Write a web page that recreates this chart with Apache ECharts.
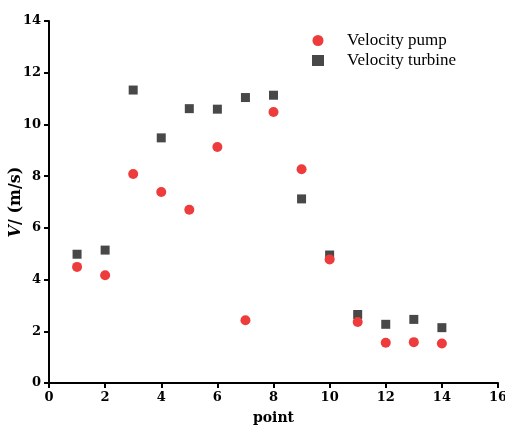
<!DOCTYPE html>
<html>
<head>
<meta charset="utf-8">
<script src="https://cdn.jsdelivr.net/npm/echarts@6/dist/echarts.min.js"></script>
<style>
  html, body { margin: 0; padding: 0; background: #fff; }
  #chart { width: 505px; height: 425px; }
</style>
</head>
<body>
<div id="chart"></div>
<script>
const points = [1, 2, 3, 4, 5, 6, 7, 8, 9, 10, 11, 12, 13, 14];
const pumpVelocity = [4.49, 4.17, 8.08, 7.39, 6.70, 9.13, 2.43, 10.48, 8.27, 4.78, 2.36, 1.56, 1.58, 1.53];
const turbineVelocity = [4.98, 5.14, 11.33, 9.48, 10.61, 10.59, 11.04, 11.13, 7.12, 4.95, 2.65, 2.27, 2.46, 2.14];
const seriesNames = ["Velocity pump", "Velocity turbine"];

const serif = "Liberation Serif, Times New Roman, serif";
const boldSerif = "DejaVu Serif, serif";
const chart = echarts.init(document.getElementById("chart"));

const axisCommon = {
  axisLine: { lineStyle: { color: "#000", width: 2 } },
  axisTick: { show: true, inside: false, length: 5, lineStyle: { color: "#000", width: 2 } },
  axisLabel: { color: "#000", fontFamily: boldSerif, fontWeight: "bold", fontSize: 13, margin: 8 },
  splitLine: { show: false },
};

chart.setOption({
  animation: false,
  backgroundColor: "#fff",
  grid: { left: 49, right: 7, top: 21, bottom: 42, containLabel: false, outerBoundsMode: "none" },
  legend: {
    orient: "vertical",
    left: 307,
    top: 27,
    itemGap: 3,
    itemWidth: 12,
    itemHeight: 11,
    textStyle: { fontFamily: serif, fontSize: 17, color: "#000", padding: [0, 0, 0, 18] },
    data: [
      { name: seriesNames[0], icon: "circle" },
      { name: seriesNames[1], icon: "rect", itemStyle: { borderWidth: 0 } },
    ],
  },
  xAxis: {
    type: "value",
    min: 0,
    max: 16,
    interval: 2,
    name: "point",
    nameLocation: "middle",
    nameGap: 28,
    nameTextStyle: { fontFamily: boldSerif, fontWeight: "bold", fontSize: 14, color: "#000" },
    ...axisCommon,
  },
  yAxis: {
    type: "value",
    min: 0,
    max: 14,
    interval: 2,
    name: "{it|V}{rg|/ (m/s)}",
    nameLocation: "middle",
    nameGap: 25,
    nameMoveOverlap: false,
    nameTextStyle: {
      rich: {
        it: { fontFamily: boldSerif, fontWeight: "bold", fontStyle: "italic", fontSize: 16, color: "#000" },
        rg: { fontFamily: boldSerif, fontWeight: "bold", fontSize: 16, color: "#000" },
      },
    },
    ...axisCommon,
  },
  series: [
    {
      name: seriesNames[0],
      type: "scatter",
      symbol: "circle",
      symbolSize: 10,
      itemStyle: { color: "#ee3b3b", opacity: 1 },
      data: points.map((p, i) => [p, pumpVelocity[i]]),
    },
    {
      name: seriesNames[1],
      type: "scatter",
      symbol: "rect",
      symbolSize: 9,
      z: 1,
      itemStyle: { color: "#484848", opacity: 1 },
      data: points.map((p, i) => [p, turbineVelocity[i]]),
    },
  ],
});
</script>
</body>
</html>
